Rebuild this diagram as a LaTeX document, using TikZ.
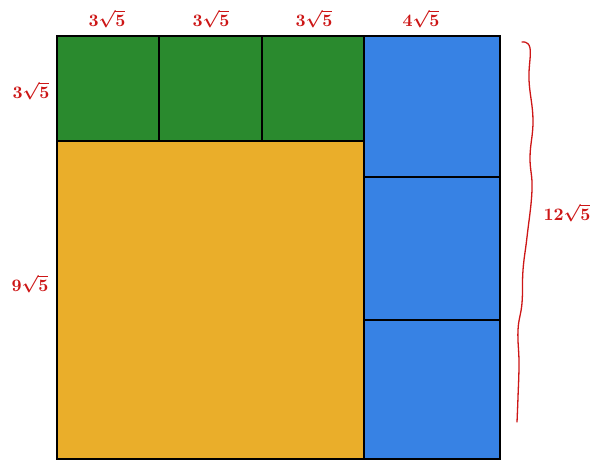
\documentclass[tikz,border=0pt]{standalone}
\usetikzlibrary{positioning}
\definecolor{cgreen}{RGB}{42,138,46}
\definecolor{cblue}{RGB}{55,130,228}
\definecolor{cyellow}{RGB}{234,174,42}
\definecolor{cred}{RGB}{205,22,22}
\newcommand{\rl}[1]{\scalebox{1.75}{\boldmath$#1$}}
\begin{document}
\begin{tikzpicture}[x=1pt,y=-1pt,
  cell/.style={draw=black,line width=1.6pt,anchor=north west,inner sep=0pt,outer sep=0pt},
  lbl/.style={text=cred,inner sep=1pt}]
\useasboundingbox (0,0) rectangle (609,462);
\fill[white] (0,0) rectangle (609,462);
% green cells
\node[cell,fill=cgreen,minimum width=102pt,minimum height=105pt] (g1) at (57,36) {};
\node[cell,fill=cgreen,minimum width=103pt,minimum height=105pt] (g2) at (159,36) {};
\node[cell,fill=cgreen,minimum width=102pt,minimum height=105pt] (g3) at (262,36) {};
% yellow
\node[cell,fill=cyellow,minimum width=307pt,minimum height=318pt] (y) at (57,141) {};
% blue
\node[cell,fill=cblue,minimum width=136pt,minimum height=141pt] (b1) at (364,36) {};
\node[cell,fill=cblue,minimum width=136pt,minimum height=143pt] (b2) at (364,177) {};
\node[cell,fill=cblue,minimum width=136pt,minimum height=139pt] (b3) at (364,320) {};
% outer frame
\draw[line width=2.2pt] (g1.north west) rectangle (b3.south east);
% labels
\node[lbl] (t1) at (107,19) {\rl{3\sqrt{5}}};
\node[lbl] (t2) at (211,19) {\rl{3\sqrt{5}}};
\node[lbl] (t3) at (314,19) {\rl{3\sqrt{5}}};
\node[lbl] (t4) at (421,19) {\rl{4\sqrt{5}}};
\node[lbl] (l1) at (31,91) {\rl{3\sqrt{5}}};
\node[lbl] (l2) at (30,284) {\rl{9\sqrt{5}}};
\node[lbl] (r1) at (567,213) {\rl{12\sqrt{5}}};
% brace
\coordinate (bt) at (522,42);
\coordinate (bb) at (517,422);
\draw[cred,line width=1.3pt,line cap=round] plot[smooth,tension=0.7] coordinates
 {(bt) (530,48) (529,80) (533,120) (530,157) (532,190) (527,237) (523,270) (522,303) (518,330) (519,363) (518,397) (bb)};
\end{tikzpicture}
\end{document}
